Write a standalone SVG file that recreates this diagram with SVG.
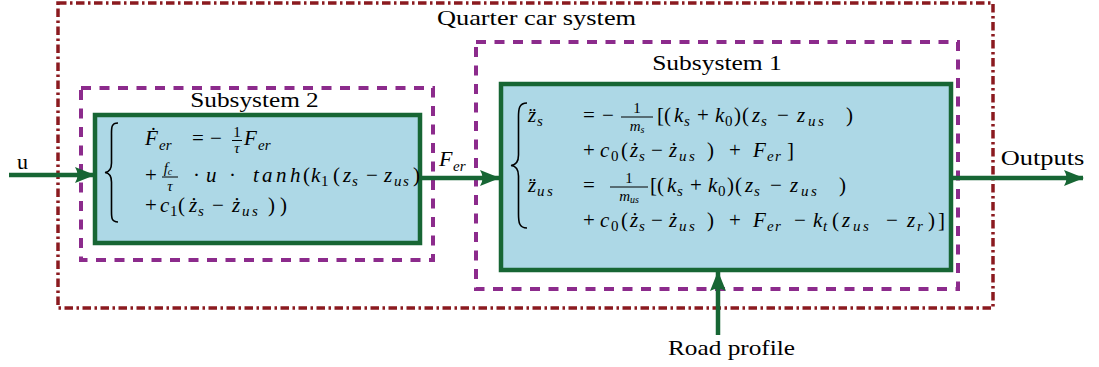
<svg xmlns="http://www.w3.org/2000/svg" width="1099" height="367" viewBox="0 0 1099 367">
<defs>
<style>
.outer{fill:none;stroke:#8B1A1F;stroke-width:3.5;stroke-dasharray:8.5 3.5 2.5 3.5}
.dash{fill:none;stroke:#8C2B8C;stroke-width:4;stroke-dasharray:10 8.5}
.blk{fill:#ADD8E6;stroke:#176634;stroke-width:4.5}
.con{fill:none;stroke:#176634;stroke-width:4.5}
.brace{fill:none;stroke:#000;stroke-width:1.6}
.fl{stroke:#000;stroke-width:1}
</style>
<marker id="ah" viewBox="0 0 20 16" refX="19" refY="8" markerWidth="20" markerHeight="16" markerUnits="userSpaceOnUse" orient="auto">
<path d="M0,0 L20,8 L0,16 Q5,8 0,0 Z" fill="#176634"/>
</marker>
</defs>

<g id="quarter-car-system">
<rect class="outer" x="58" y="3" width="935" height="305"/>
<text font-family="Liberation Serif" font-size="22" text-anchor="middle" transform="translate(536.5,25) scale(1.2,1)">Quarter car system</text>
</g>

<g id="subsystem2">
<rect class="dash" x="81" y="88" width="352" height="172"/>
<rect class="blk" x="95" y="115" width="325" height="128"/>
<text font-family="Liberation Serif" font-size="22" text-anchor="middle" transform="translate(254.5,107) scale(1.15,1)">Subsystem 2</text>
<path class="brace" d="M118,123 C111,123 111.5,128 111.5,135 L111.5,163 C111.5,169 109,172 105,172.5 C109,173 111.5,176 111.5,182 L111.5,210 C111.5,217 111,222 118,222"/>
<text font-family="Liberation Serif" font-size="21"><tspan x="145" y="145" font-style="italic">Ḟ</tspan><tspan x="159" y="150" font-size="15" font-style="italic">er</tspan><tspan x="192" y="145">=</tspan><tspan x="210" y="145">−</tspan><tspan x="244" y="145" font-style="italic">F</tspan><tspan x="258" y="150" font-size="15" font-style="italic">er</tspan></text>
<text font-family="Liberation Serif" font-size="15" x="237" y="137" text-anchor="middle">1</text>
<line class="fl" x1="232" y1="140.5" x2="242" y2="140.5"/>
<text font-family="Liberation Serif" font-size="15" font-style="italic" x="237" y="153" text-anchor="middle">τ</text>
<text font-family="Liberation Serif" font-size="15" font-style="italic" x="168" y="173" text-anchor="middle">f<tspan font-size="10" dy="2">c</tspan></text>
<line class="fl" x1="162" y1="177" x2="178" y2="177"/>
<text font-family="Liberation Serif" font-size="15" font-style="italic" x="170" y="191" text-anchor="middle">τ</text>
<text font-family="Liberation Serif" font-size="21"><tspan x="145" y="182">+</tspan><tspan x="193" y="182">·</tspan><tspan x="206" y="182" font-style="italic">u</tspan><tspan x="229" y="182">·</tspan><tspan x="253" y="182" font-style="italic">t</tspan><tspan x="262" y="182" font-style="italic">a</tspan><tspan x="276" y="182" font-style="italic">n</tspan><tspan x="290" y="182" font-style="italic">h</tspan><tspan x="303" y="182">(</tspan><tspan x="311" y="182" font-style="italic">k</tspan><tspan x="321" y="186" font-size="15">1</tspan><tspan x="333" y="182">(</tspan><tspan x="343" y="182" font-style="italic">z</tspan><tspan x="352" y="186" font-size="15" font-style="italic">s</tspan><tspan x="366" y="182">−</tspan><tspan x="384" y="182" font-style="italic">z</tspan><tspan x="394" y="186" font-size="15" font-style="italic">u</tspan><tspan x="403" y="186" font-size="15" font-style="italic">s</tspan><tspan x="413" y="182">)</tspan></text>
<text font-family="Liberation Serif" font-size="21"><tspan x="145" y="212">+</tspan><tspan x="160" y="212" font-style="italic">c</tspan><tspan x="170" y="216" font-size="15">1</tspan><tspan x="178" y="212">(</tspan><tspan x="189" y="212" font-style="italic">ż</tspan><tspan x="198" y="216" font-size="15" font-style="italic">s</tspan><tspan x="212" y="212">−</tspan><tspan x="232" y="212" font-style="italic">ż</tspan><tspan x="242" y="216" font-size="15" font-style="italic">u</tspan><tspan x="252" y="216" font-size="15" font-style="italic">s</tspan><tspan x="268" y="212">)</tspan><tspan x="280" y="212">)</tspan></text>
</g>

<g id="subsystem1">
<rect class="dash" x="476" y="42" width="482" height="247"/>
<rect class="blk" x="501" y="84" width="450" height="186"/>
<text font-family="Liberation Serif" font-size="22" text-anchor="middle" transform="translate(717,70) scale(1.16,1)">Subsystem 1</text>
<path class="brace" d="M527,103 C519,103 518.5,109 518.5,117 L518.5,155 C518.5,161 516,165 511,165.5 C516,166 518.5,170 518.5,176 L518.5,214 C518.5,222 519,228 527,228"/>
<text font-family="Liberation Serif" font-size="21"><tspan x="528" y="122" font-style="italic">z̈</tspan><tspan x="537" y="126" font-size="15" font-style="italic">s</tspan><tspan x="583" y="122">=</tspan><tspan x="602" y="122">−</tspan><tspan x="657" y="122">[</tspan><tspan x="664" y="122">(</tspan><tspan x="674" y="122" font-style="italic">k</tspan><tspan x="684" y="126" font-size="15" font-style="italic">s</tspan><tspan x="697" y="122">+</tspan><tspan x="715" y="122" font-style="italic">k</tspan><tspan x="725" y="126" font-size="15">0</tspan><tspan x="734" y="122">)</tspan><tspan x="742" y="122">(</tspan><tspan x="752" y="122" font-style="italic">z</tspan><tspan x="761" y="126" font-size="15" font-style="italic">s</tspan><tspan x="777" y="122">−</tspan><tspan x="797" y="122" font-style="italic">z</tspan><tspan x="808" y="126" font-size="15" font-style="italic">u</tspan><tspan x="818" y="126" font-size="15" font-style="italic">s</tspan><tspan x="846" y="122">)</tspan></text>
<text font-family="Liberation Serif" font-size="15" x="637" y="113" text-anchor="middle">1</text>
<line class="fl" x1="621" y1="117" x2="653" y2="117"/>
<text font-family="Liberation Serif" font-size="15" font-style="italic" x="637" y="131" text-anchor="middle">m<tspan font-size="10" dy="2">s</tspan></text>
<text font-family="Liberation Serif" font-size="21"><tspan x="583" y="157">+</tspan><tspan x="600" y="157" font-style="italic">c</tspan><tspan x="611" y="161" font-size="15">0</tspan><tspan x="621" y="157">(</tspan><tspan x="630" y="157" font-style="italic">ż</tspan><tspan x="639" y="161" font-size="15" font-style="italic">s</tspan><tspan x="651" y="157">−</tspan><tspan x="669" y="157" font-style="italic">ż</tspan><tspan x="679" y="161" font-size="15" font-style="italic">u</tspan><tspan x="689" y="161" font-size="15" font-style="italic">s</tspan><tspan x="707" y="157">)</tspan><tspan x="729" y="157">+</tspan><tspan x="753" y="157" font-style="italic">F</tspan><tspan x="767" y="161" font-size="15" font-style="italic">e</tspan><tspan x="775" y="161" font-size="15" font-style="italic">r</tspan><tspan x="787" y="157">]</tspan></text>
<text font-family="Liberation Serif" font-size="21"><tspan x="528" y="192" font-style="italic">z̈</tspan><tspan x="537" y="196" font-size="15" font-style="italic">u</tspan><tspan x="547" y="196" font-size="15" font-style="italic">s</tspan><tspan x="583" y="192">=</tspan><tspan x="650" y="192">[</tspan><tspan x="657" y="192">(</tspan><tspan x="667" y="192" font-style="italic">k</tspan><tspan x="677" y="196" font-size="15" font-style="italic">s</tspan><tspan x="690" y="192">+</tspan><tspan x="708" y="192" font-style="italic">k</tspan><tspan x="718" y="196" font-size="15">0</tspan><tspan x="727" y="192">)</tspan><tspan x="735" y="192">(</tspan><tspan x="745" y="192" font-style="italic">z</tspan><tspan x="754" y="196" font-size="15" font-style="italic">s</tspan><tspan x="770" y="192">−</tspan><tspan x="790" y="192" font-style="italic">z</tspan><tspan x="801" y="196" font-size="15" font-style="italic">u</tspan><tspan x="811" y="196" font-size="15" font-style="italic">s</tspan><tspan x="839" y="192">)</tspan></text>
<text font-family="Liberation Serif" font-size="15" x="629" y="183" text-anchor="middle">1</text>
<line class="fl" x1="610" y1="187" x2="648" y2="187"/>
<text font-family="Liberation Serif" font-size="15" font-style="italic" x="629" y="201" text-anchor="middle">m<tspan font-size="10" dy="2">us</tspan></text>
<text font-family="Liberation Serif" font-size="21"><tspan x="583" y="227">+</tspan><tspan x="600" y="227" font-style="italic">c</tspan><tspan x="611" y="231" font-size="15">0</tspan><tspan x="621" y="227">(</tspan><tspan x="630" y="227" font-style="italic">ż</tspan><tspan x="639" y="231" font-size="15" font-style="italic">s</tspan><tspan x="651" y="227">−</tspan><tspan x="669" y="227" font-style="italic">ż</tspan><tspan x="679" y="231" font-size="15" font-style="italic">u</tspan><tspan x="689" y="231" font-size="15" font-style="italic">s</tspan><tspan x="707" y="227">)</tspan><tspan x="729" y="227">+</tspan><tspan x="753" y="227" font-style="italic">F</tspan><tspan x="767" y="231" font-size="15" font-style="italic">e</tspan><tspan x="775" y="231" font-size="15" font-style="italic">r</tspan><tspan x="794" y="227">−</tspan><tspan x="813" y="227" font-style="italic">k</tspan><tspan x="823" y="231" font-size="15" font-style="italic">t</tspan><tspan x="832" y="227">(</tspan><tspan x="842" y="227" font-style="italic">z</tspan><tspan x="853" y="231" font-size="15" font-style="italic">u</tspan><tspan x="863" y="231" font-size="15" font-style="italic">s</tspan><tspan x="886" y="227">−</tspan><tspan x="907" y="227" font-style="italic">z</tspan><tspan x="917" y="231" font-size="15" font-style="italic">r</tspan><tspan x="928" y="227">)</tspan><tspan x="938" y="227">]</tspan></text>
</g>

<g id="connectors">
<line class="con" x1="9" y1="175" x2="94" y2="175" marker-end="url(#ah)"/>
<line class="con" x1="420" y1="178" x2="499" y2="178" marker-end="url(#ah)"/>
<line class="con" x1="951" y1="178" x2="1083" y2="178" marker-end="url(#ah)"/>
<line class="con" x1="718" y1="335" x2="718" y2="272" marker-end="url(#ah)"/>
<text font-family="Liberation Serif" font-size="22" x="17" y="169">u</text>
<text font-family="Liberation Serif" font-size="22" font-style="italic"><tspan x="439" y="166">F</tspan><tspan x="453" y="171" font-size="15">er</tspan></text>
<text font-family="Liberation Serif" font-size="22" text-anchor="middle" transform="translate(1042.5,165) scale(1.2,1)">Outputs</text>
<text font-family="Liberation Serif" font-size="22" text-anchor="middle" transform="translate(731.5,355) scale(1.15,1)">Road profile</text>
</g>
</svg>
